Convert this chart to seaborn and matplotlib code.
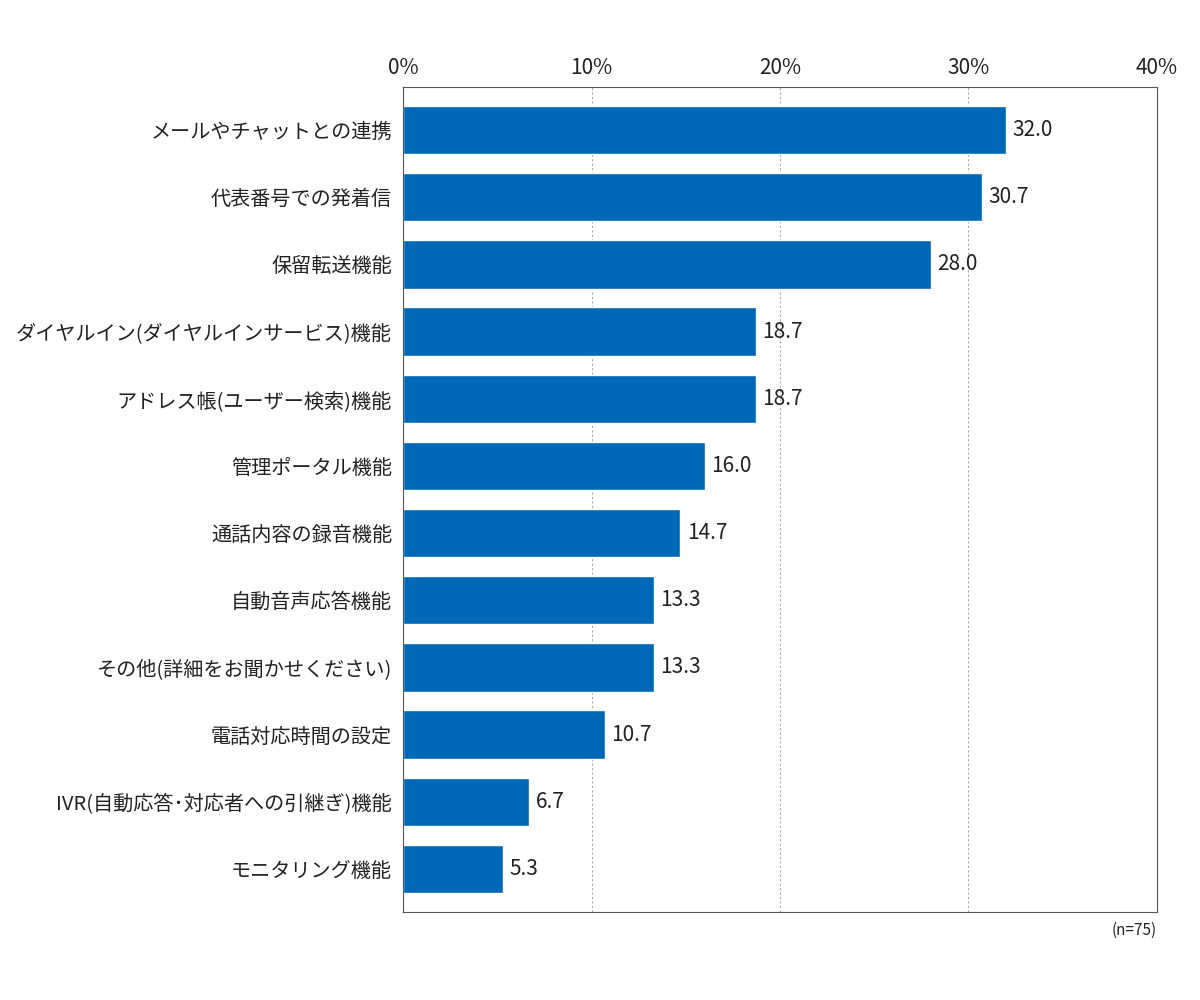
import matplotlib
matplotlib.use("Agg")
import matplotlib.pyplot as plt
import seaborn as sns
import pandas as pd

categories = ["メールやチャットとの連携", "代表番号での発着信", "保留転送機能",
              "ダイヤルイン(ダイヤルインサービス)機能", "アドレス帳(ユーザー検索)機能",
              "管理ポータル機能", "通話内容の録音機能", "自動音声応答機能",
              "その他(詳細をお聞かせください)", "電話対応時間の設定",
              "IVR(自動応答･対応者への引継ぎ)機能", "モニタリング機能"]
values = [32.0, 30.7, 28.0, 18.7, 18.7, 16.0, 14.7, 13.3, 13.3, 10.7, 6.7, 5.3]
xticks = [0, 10, 20, 30, 40]

sns.set_theme(style="white")
plt.rcParams['font.family'] = ['Noto Sans CJK JP', 'DejaVu Sans']

df = pd.DataFrame({"cat": categories, "val": values})
fig = plt.figure(figsize=(12, 10), dpi=100)
ax = fig.add_axes([0.336, 0.088, 0.628, 0.825])
sns.barplot(data=df, x="val", y="cat", color="#0068B7", saturation=1, width=0.72, ax=ax)
ax.set_xlim(0, 40)
ax.set_ylim(11.64, -0.64)
ax.set_xticks(xticks)
ax.set_xticklabels([f"{t}%" for t in xticks], fontsize=15, color="#222222")
ax.xaxis.tick_top()
ax.tick_params(axis="x", length=0, pad=6)
ax.tick_params(axis="y", length=0, labelsize=14.5, pad=8, labelcolor="#222222")
ax.set_xlabel("")
ax.set_ylabel("")
for t in xticks[1:-1]:
    ax.axvline(t, color="#aaaaaa", linestyle=(0, (2, 2)), linewidth=0.8, zorder=0)
for s in ax.spines.values():
    s.set_color("#555555")
    s.set_linewidth(0.8)
for i, v in enumerate(values):
    ax.text(v + 0.35, i, f"{v:.1f}", va="center", ha="left", fontsize=15, color="#222222")
fig.text(0.964, 0.07, "(n=75)", ha="right", va="center", fontsize=11, color="#222222")
fig.savefig("out.png", dpi=100)
